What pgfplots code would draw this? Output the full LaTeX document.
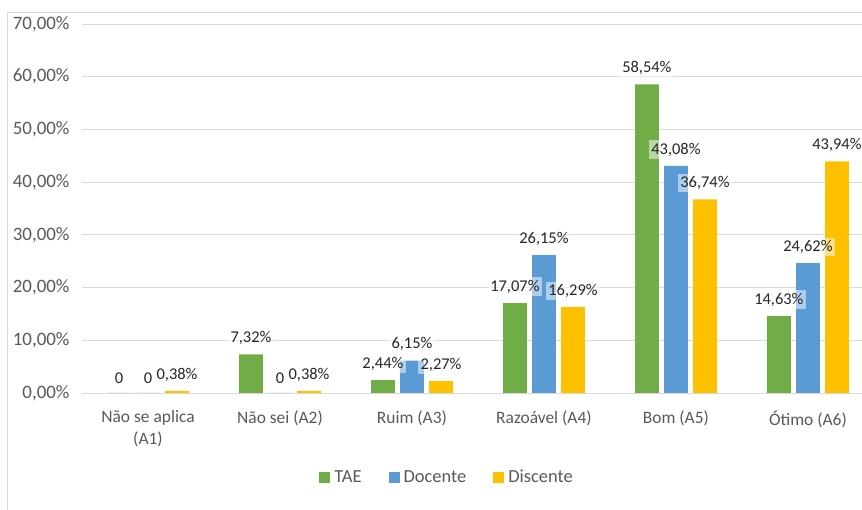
\documentclass[border=0pt]{standalone}
\usepackage{pgfplots}
\pgfplotsset{compat=1.18}
\usepackage{fontspec}
\setmainfont{Carlito}
\definecolor{tae}{HTML}{70AD47}
\definecolor{doc}{HTML}{5B9BD5}
\definecolor{dis}{HTML}{FFC000}
\definecolor{gridc}{HTML}{D9D9D9}
\definecolor{txt}{HTML}{595959}
\definecolor{lbl}{HTML}{262626}
\begin{document}
\begin{tikzpicture}[x=1bp,y=1bp]
\useasboundingbox (0,0) rectangle (862,510);
\draw[gridc, line width=0.8bp] (7,0) -- (7,498) -- (880,498);
\begin{axis}[
  at={(82bp,117bp)}, anchor=south west,
  scale only axis, width=780bp, height=369bp,
  xmin=-0.5, xmax=5.41, ymin=0, ymax=70,
  xtick={0,...,5},
  xticklabels={{Não se aplica\\(A1)},{Não sei (A2)},{Ruim (A3)},{Razoável (A4)},{Bom (A5)},{Ótimo (A6)}},
  xticklabel style={align=center, font=\fontsize{17.5}{22}\selectfont, text=txt, yshift=-10bp},
  ytick={0,10,...,70},
  yticklabels={{0,00\%},{10,00\%},{20,00\%},{30,00\%},{40,00\%},{50,00\%},{60,00\%},{70,00\%}},
  yticklabel style={font=\fontsize{19}{22}\selectfont, text=txt, xshift=-9bp},
  ymajorgrids, grid style={gridc, line width=0.9bp},
  axis line style={draw=none}, major tick style={draw=none},
  clip=false,
  ybar, bar width=0.18,
  point meta=explicit symbolic,
  nodes near coords,
  every node near coord/.append style={font=\fontsize{16.5}{19}\selectfont, text=lbl, fill=white, fill opacity=0.5, text opacity=1, inner sep=2.5bp, anchor=south, yshift=7bp},
  legend style={at={(0.468,-0.228)}, anchor=center, draw=none, legend columns=-1,
    font=\fontsize{18.5}{22}\selectfont, text=txt,
    /tikz/every odd column/.append style={column sep=2bp},
    /tikz/every even column/.append style={column sep=25bp}},
  legend image code/.code={\fill[#1, draw=none] (0bp,-5.5bp) rectangle (11bp,5.5bp);},
]
\addplot[fill=tae, draw=none, bar shift=-0.22] coordinates {
 (0,0) [0] (1,7.32) [7,32\%] (2,2.44) [2,44\%] (3,17.07) [17,07\%] (4,58.54) [58,54\%] (5,14.63) [14,63\%]};
\addplot[fill=doc, draw=none, bar shift=0] coordinates {
 (0,0) [0] (1,0) [0] (2,6.15) [6,15\%] (3,26.15) [26,15\%] (4,43.08) [43,08\%] (5,24.62) [24,62\%]};
\addplot[fill=dis, draw=none, bar shift=0.22] coordinates {
 (0,0.38) [0,38\%] (1,0.38) [0,38\%] (2,2.27) [2,27\%] (3,16.29) [16,29\%] (4,36.74) [36,74\%] (5,43.94) [43,94\%]};
\legend{TAE,Docente,Discente}
\end{axis}
\end{tikzpicture}
\end{document}
